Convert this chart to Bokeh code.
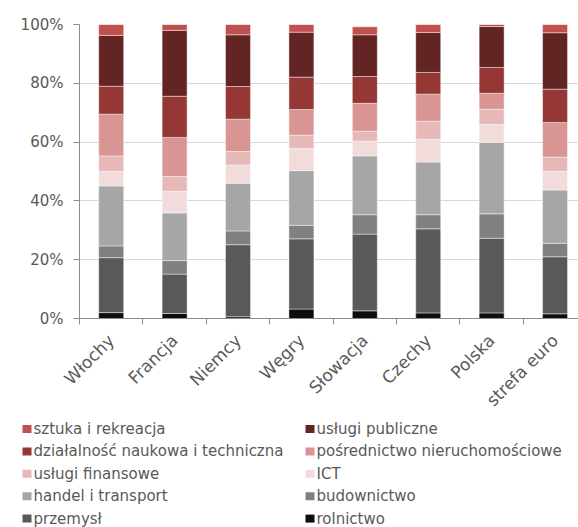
import math
from bokeh.plotting import figure
from bokeh.layouts import column, row
from bokeh.models import ColumnDataSource, Range1d, FixedTicker
from bokeh.core.properties import value
from bokeh.embed import file_html
from bokeh.resources import INLINE

countries = ["Włochy", "Francja", "Niemcy", "Węgry", "Słowacja", "Czechy", "Polska", "strefa euro"]

rolnictwo = [2.0, 1.7, 0.6, 3.2, 2.6, 1.9, 1.9, 1.6]
przemysl = [18.7, 13.4, 24.5, 23.9, 26.1, 28.6, 25.4, 19.4]
budownictwo = [4.0, 4.6, 4.7, 4.6, 6.6, 4.8, 8.3, 4.6]
handel = [20.4, 16.2, 16.2, 18.6, 20.0, 17.9, 24.3, 18.1]
ict = [4.9, 7.4, 6.2, 7.5, 5.0, 7.8, 6.1, 6.3]
finansowe = [5.3, 5.0, 4.6, 4.6, 3.4, 6.1, 5.2, 4.9]
posrednictwo = [14.2, 13.3, 11.0, 8.7, 9.5, 9.2, 5.4, 11.8]
dzialalnosc = [9.5, 14.0, 11.1, 11.0, 9.1, 7.4, 8.8, 11.3]
publiczne = [17.3, 22.4, 17.6, 15.3, 14.2, 13.6, 13.9, 19.2]
sztuka = [3.7, 2.0, 3.5, 2.6, 2.7, 2.7, 0.7, 2.8]

series_keys = ["rolnictwo", "przemysl", "budownictwo", "handel", "ict",
               "finansowe", "posrednictwo", "dzialalnosc", "publiczne", "sztuka"]
series_labels = ["rolnictwo", "przemysł", "budownictwo", "handel i transport", "ICT",
                 "usługi finansowe", "pośrednictwo nieruchomościowe",
                 "działalność naukowa i techniczna", "usługi publiczne", "sztuka i rekreacja"]
series_vals = [rolnictwo, przemysl, budownictwo, handel, ict,
               finansowe, posrednictwo, dzialalnosc, publiczne, sztuka]
colors = ["#0D0D0D", "#595959", "#808080", "#A6A6A6", "#F2DCDB",
          "#E6B9B8", "#D99594", "#953735", "#632523", "#C0504D"]

y_ticks = [0, 20, 40, 60, 80, 100]

xs = [i + 0.5 for i in range(len(countries))]
data = {"x": xs}
for k, v in zip(series_keys, series_vals):
    data[k] = v
source = ColumnDataSource(data)

FONT = "DejaVu Sans"
TXT = "#595959"
AXC = "#8C8C8C"

TOP_H = 420
p = figure(width=578, height=TOP_H, output_backend="svg", toolbar_location=None,
           x_range=Range1d(0, 7.87), y_range=Range1d(0, 100),
           min_border_left=79, min_border_top=24, min_border_bottom=TOP_H - 318,
           min_border_right=0)
p.outline_line_color = None

renderers = p.vbar_stack(series_keys, x="x", width=0.394, source=source,
                         color=colors, line_color="white", line_alpha=0.55,
                         line_width=0.8)

# y axis
p.yaxis.ticker = FixedTicker(ticks=y_ticks)
p.yaxis.major_label_overrides = {t: f"{t}%" for t in y_ticks}
p.yaxis.major_label_text_font = FONT
p.yaxis.major_label_text_font_size = "15px"
p.yaxis.major_label_text_color = TXT
p.yaxis.axis_line_color = AXC
p.yaxis.major_tick_line_color = AXC
p.yaxis.major_tick_out = 6
p.yaxis.major_tick_in = 0
p.yaxis.minor_tick_line_color = None
p.yaxis.major_label_standoff = 10

# x axis: ticks between categories, labels at centres
p.xaxis.ticker = FixedTicker(ticks=xs, minor_ticks=list(range(len(countries) + 1)))
p.xaxis.major_label_overrides = {x: c for x, c in zip(xs, countries)}
p.xaxis.major_label_orientation = math.pi / 4
p.xaxis.major_label_text_font = FONT
p.xaxis.major_label_text_font_size = "17px"
p.xaxis.major_label_text_color = TXT
p.xaxis.axis_line_color = AXC
p.xaxis.major_tick_line_color = None
p.xaxis.major_tick_out = 0
p.xaxis.major_tick_in = 0
p.xaxis.minor_tick_line_color = AXC
p.xaxis.minor_tick_out = 6
p.xaxis.minor_tick_in = 0
p.xaxis.major_label_standoff = 13

p.xgrid.grid_line_color = None
p.ygrid.ticker = FixedTicker(ticks=y_ticks)
p.ygrid.grid_line_color = "#D9D9D9"
p.ygrid.grid_line_width = 1.2

# legend panel (page pixel coordinates, y downward)
leg = figure(width=578, height=527 - TOP_H, output_backend="svg", toolbar_location=None,
             x_range=Range1d(0, 578), y_range=Range1d(527, TOP_H),
             min_border=0, min_border_left=0, min_border_right=0,
             min_border_top=0, min_border_bottom=0,
             x_axis_type=None, y_axis_type=None)
leg.outline_line_color = None
leg.xgrid.grid_line_color = None
leg.ygrid.grid_line_color = None

order = list(range(len(series_keys)))[::-1]  # top of stack first
col_x = [22, 305]
lx, ly, lc, ll, tx = [], [], [], [], []
for n, i in enumerate(order):
    c = n % 2
    r = n // 2
    yy = 428.5 + 22.4 * r
    lx.append(col_x[c] + 4.5)
    ly.append(yy)
    lc.append(colors[i])
    ll.append(series_labels[i])
    tx.append(col_x[c] + 11)
lsrc = ColumnDataSource(dict(x=lx, y=ly, c=lc, label=ll, tx=tx))
leg.rect(x="x", y="y", width=9, height=8, fill_color="c", line_color=None, source=lsrc)
leg.text(x="tx", y="y", text="label", source=lsrc, text_font=value(FONT),
         text_font_size="15px", text_color=TXT, text_baseline="middle",
         text_align="left")

layout = column(p, row(leg), spacing=0)
open("out.html", "w").write(file_html(layout, INLINE))
